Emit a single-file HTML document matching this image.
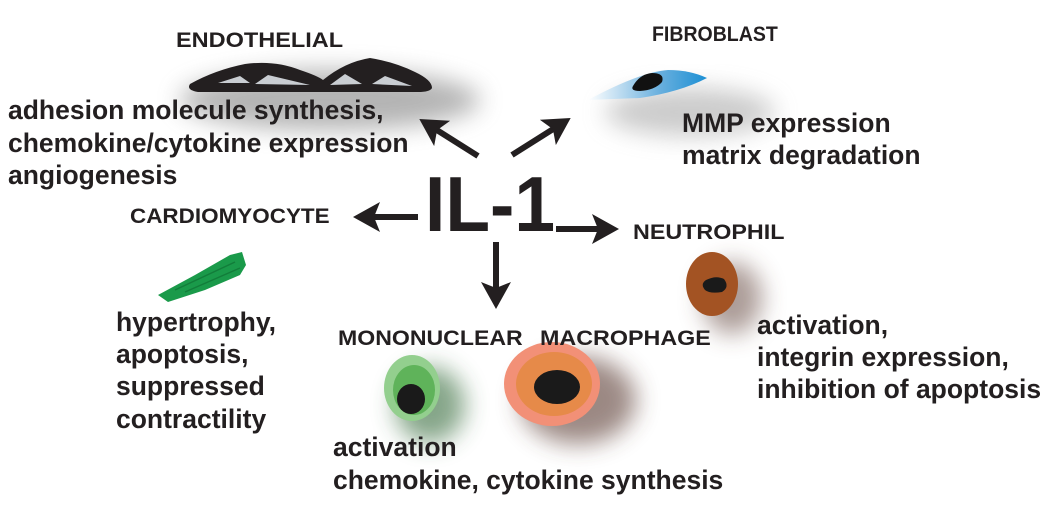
<!DOCTYPE html>
<html><head><meta charset="utf-8"><style>
html,body{margin:0;padding:0;background:#fff;}
svg{display:block;font-family:"Liberation Sans",Arial,sans-serif;font-weight:bold;}
</style></head><body>
<svg width="1050" height="510" viewBox="0 0 1050 510" xmlns="http://www.w3.org/2000/svg">
<defs>
<filter id="b12" x="-50%" y="-50%" width="200%" height="200%"><feGaussianBlur stdDeviation="12"/></filter>
<linearGradient id="fb" x1="0" x2="1"><stop offset="0" stop-color="#fff"/><stop offset="0.6" stop-color="#6ab0de"/><stop offset="1" stop-color="#1c8fd4"/></linearGradient>
<marker id="ah" markerWidth="4.5" markerHeight="5" refX="2" refY="2.5" orient="auto" markerUnits="strokeWidth"><path d="M0,0 L4.5,2.5 L0,5 L1,2.5 Z" fill="#231f20"/></marker>
</defs>
<ellipse cx="330" cy="100" rx="150" ry="30" fill="#777" opacity="0.55" filter="url(#b12)"/>
<ellipse cx="690" cy="112" rx="85" ry="24" fill="#999" opacity="0.5" filter="url(#b12)"/>
<ellipse cx="430" cy="405" rx="35" ry="38" fill="#356b3a" opacity="0.6" filter="url(#b12)"/>
<ellipse cx="578" cy="400" rx="58" ry="44" fill="#5a3a30" opacity="0.6" filter="url(#b12)"/>
<ellipse cx="732" cy="298" rx="30" ry="36" fill="#5a3a30" opacity="0.5" filter="url(#b12)"/>
<path d="M190,84 Q215,70 245,64 Q275,60 300,70 Q318,76 323,80 Q345,62 370,58 Q395,62 415,72 Q432,80 432,88 Q430,92 418,92 L198,92 Q186,90 190,84 Z" fill="#231f20"/>
<path d="M218,83 L240,76 L250,83 Z M255,84 L268,75 L310,85 Z M330,85 L345,74 L362,84 Z M372,84 L385,76 L412,86 Z" fill="#c9cdd2"/>
<path d="M588,100 Q640,72 668,70 Q690,70 707,78 Q680,92 640,98 Z" fill="url(#fb)"/>
<path d="M633,86 Q640,74 652,73 Q665,73 662,82 Q655,90 640,91 Q630,91 633,86 Z" fill="#111"/>
<path d="M158,295 L195,275 L230,255 L242,252 L246,265 L240,275 L205,290 L168,302 Z" fill="#1a9a4a"/>
<path d="M175,290 L235,262 M185,292 L240,268" stroke="#0d6b30" stroke-width="1.5" opacity="0.6"/>
<ellipse cx="412" cy="388" rx="28" ry="33" fill="#93cf8e"/>
<ellipse cx="414" cy="390" rx="21" ry="25" fill="#5fb35a"/>
<ellipse cx="411" cy="399" rx="14" ry="15" fill="#1a1a1a"/>
<ellipse cx="552" cy="384" rx="48" ry="42" fill="#f29077"/>
<ellipse cx="554" cy="384" rx="38" ry="32" fill="#e68a49"/>
<ellipse cx="557" cy="387" rx="23" ry="17" fill="#1a1a1a"/>
<ellipse cx="712" cy="284" rx="26" ry="32" fill="#a35323"/>
<path d="M706,280 Q716,275 724,279 Q730,287 722,292 Q710,294 705,290 Q700,284 706,280 Z" fill="#1a1a1a"/>
<g stroke="#231f20" stroke-width="6" fill="none" marker-end="url(#ah)">
<line x1="478" y1="156" x2="432" y2="127"/>
<line x1="512" y1="155" x2="558" y2="126"/>
<line x1="418" y1="217" x2="368" y2="217"/>
<line x1="556" y1="229" x2="604" y2="229"/>
<line x1="496" y1="242" x2="496" y2="294"/>
</g>
<g fill="#231f20">
<text x="425" y="231" font-size="78" textLength="130" lengthAdjust="spacingAndGlyphs">IL-1</text>
<g font-size="21">
<text transform="translate(176,47) scale(1.12,1)">ENDOTHELIAL</text>
<text transform="translate(652,41) scale(0.93,1)">FIBROBLAST</text>
<text transform="translate(130,223) scale(1.07,1)">CARDIOMYOCYTE</text>
<text transform="translate(633,239) scale(1.11,1)">NEUTROPHIL</text>
<text transform="translate(338,345) scale(1.10,1)">MONONUCLEAR</text>
<text transform="translate(540,345) scale(1.11,1)">MACROPHAGE</text>
</g>
<g font-size="26.5">
<text x="8" y="119">adhesion molecule synthesis,</text>
<text x="8" y="152">chemokine/cytokine expression</text>
<text x="8" y="184">angiogenesis</text>
<text x="682" y="132">MMP expression</text>
<text x="682" y="164">matrix degradation</text>
<text x="116" y="331">hypertrophy,</text>
<text x="116" y="363">apoptosis,</text>
<text x="116" y="395">suppressed</text>
<text x="116" y="428">contractility</text>
<text x="757" y="334">activation,</text>
<text x="757" y="366">integrin expression,</text>
<text x="757" y="398">inhibition of apoptosis</text>
<text x="333" y="456">activation</text>
<text x="333" y="489">chemokine, cytokine synthesis</text>
</g>
</g>
</svg>
</body></html>
